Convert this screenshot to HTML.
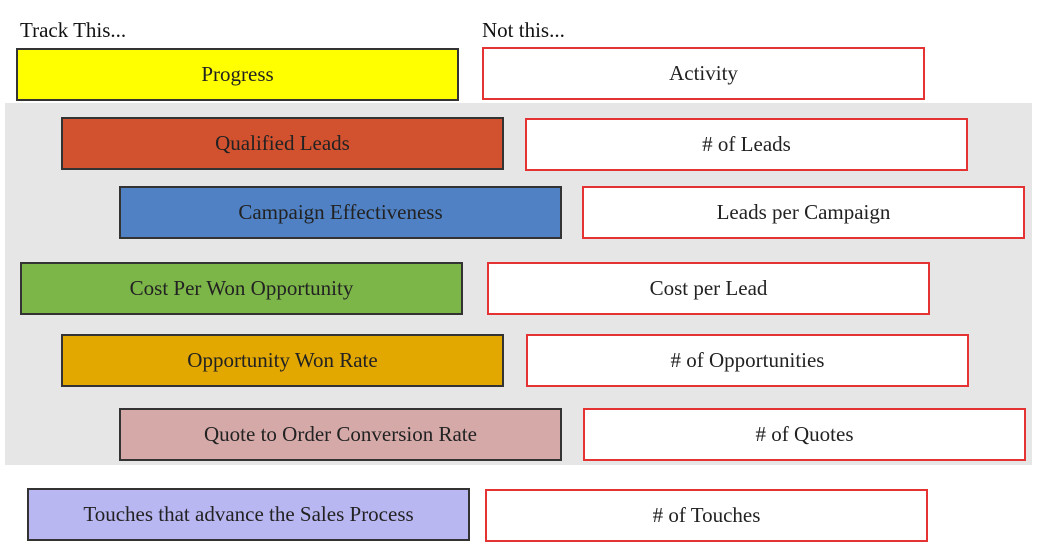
<!DOCTYPE html>
<html><head><meta charset="utf-8"><style>
body{margin:0;width:1038px;height:553px;background:#fff;position:relative;overflow:hidden;font-family:"Liberation Serif","DejaVu Serif",serif;}
.bg{position:absolute;left:5px;top:103px;width:1027px;height:362px;background:#e6e6e6;}
.b{position:absolute;width:443px;height:53px;box-sizing:border-box;display:flex;align-items:center;justify-content:center;font-size:21px;color:#222;}
.l{border:2px solid #333;}
.r{border:2px solid #e53333;background:#fff;}
.h{position:absolute;top:18px;font-size:21px;color:#111;}
</style></head><body>
<div class="bg"></div>
<div class="h" style="left:20px">Track This...</div>
<div class="h" style="left:482px">Not this...</div>
<div class="b l" style="left:16px;top:48px;background:#ffff00">Progress</div>
<div class="b r" style="left:482px;top:47px">Activity</div>
<div class="b l" style="left:61px;top:117px;background:#d2522f">Qualified Leads</div>
<div class="b r" style="left:525px;top:118px">&#35; of Leads</div>
<div class="b l" style="left:119px;top:186px;background:#4f81c4">Campaign Effectiveness</div>
<div class="b r" style="left:582px;top:186px">Leads per Campaign</div>
<div class="b l" style="left:20px;top:262px;background:#7cb648">Cost Per Won Opportunity</div>
<div class="b r" style="left:487px;top:262px">Cost per Lead</div>
<div class="b l" style="left:61px;top:334px;background:#e2a800">Opportunity Won Rate</div>
<div class="b r" style="left:526px;top:334px">&#35; of Opportunities</div>
<div class="b l" style="left:119px;top:408px;background:#d4a9a8">Quote to Order Conversion Rate</div>
<div class="b r" style="left:583px;top:408px">&#35; of Quotes</div>
<div class="b l" style="left:27px;top:488px;background:#b9b7f2">Touches that advance the Sales Process</div>
<div class="b r" style="left:485px;top:489px">&#35; of Touches</div>
</body></html>
